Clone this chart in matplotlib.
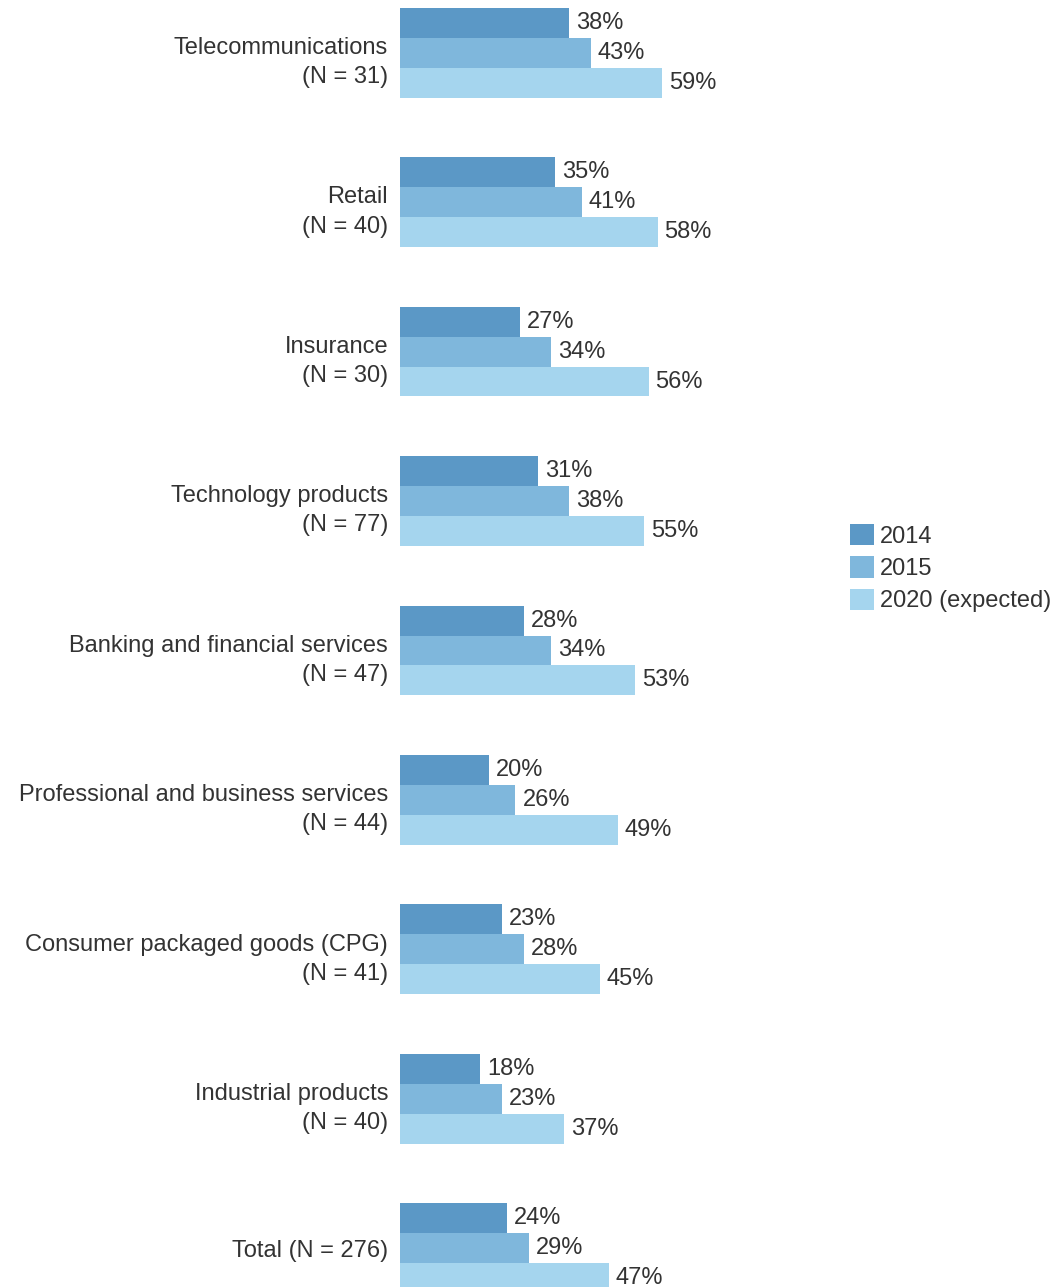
import numpy as np
import matplotlib.pyplot as plt
from matplotlib.patches import Patch

plt.rcParams['font.family'] = ['Liberation Sans', 'DejaVu Sans']

categories = [
    "Telecommunications\n(N = 31)",
    "Retail\n(N = 40)",
    "Insurance\n(N = 30)",
    "Technology products\n(N = 77)",
    "Banking and financial services\n(N = 47)",
    "Professional and business services\n(N = 44)",
    "Consumer packaged goods (CPG)\n(N = 41)",
    "Industrial products\n(N = 40)",
    "Total (N = 276)",
]
vals_2014 = [38, 35, 27, 31, 28, 20, 23, 18, 24]
vals_2015 = [43, 41, 34, 38, 34, 26, 28, 23, 29]
vals_2020 = [59, 58, 56, 55, 53, 49, 45, 37, 47]
series_names = ["2014", "2015", "2020 (expected)"]
colors = ["#5b98c6", "#7fb7dc", "#a5d5ee"]
text_color = "#333333"
fs = 17

W, H = 1057, 1287
fig = plt.figure(figsize=(W / 100, H / 100), dpi=100)
ax = fig.add_axes([400 / W, 0, 444 / W, 1])

y = np.arange(len(categories))
bar_h = 0.2
for k, (vals, col) in enumerate(zip([vals_2014, vals_2015, vals_2020], colors)):
    pos = y + (k - 1) * bar_h
    ax.barh(pos, vals, height=bar_h, color=col, linewidth=0)
    for p, v in zip(pos, vals):
        ax.annotate(f"{v}%", (v, p), xytext=(5, 0), textcoords="offset points",
                    va="center", ha="left", fontsize=fs, color=text_color)

ax.set_xlim(0, 100)
ax.set_ylim(8.26, -0.3535)
# two-line labels sit a little lower than the middle bar
ticks = [i + (0.025 if "\n" in c else 0) for i, c in zip(y, categories)]
ax.set_yticks(ticks)
ax.set_yticklabels(categories, fontsize=fs, color=text_color)
for lbl in ax.get_yticklabels():
    lbl.set_linespacing(1.42)
ax.tick_params(axis="y", length=0, pad=8.6)
ax.set_xticks([])
for s in ax.spines.values():
    s.set_visible(False)

handles = [Patch(facecolor=c, edgecolor="none") for c in colors]
fig.legend(handles, series_names, loc="upper left",
           bbox_to_anchor=(850 / W, 1 - 524 / H), frameon=False,
           fontsize=fs, handlelength=1.02, handleheight=1.02,
           handletextpad=0.25, labelspacing=0.36, borderpad=0,
           borderaxespad=0, labelcolor=text_color)

fig.savefig("out.png", dpi=100)
